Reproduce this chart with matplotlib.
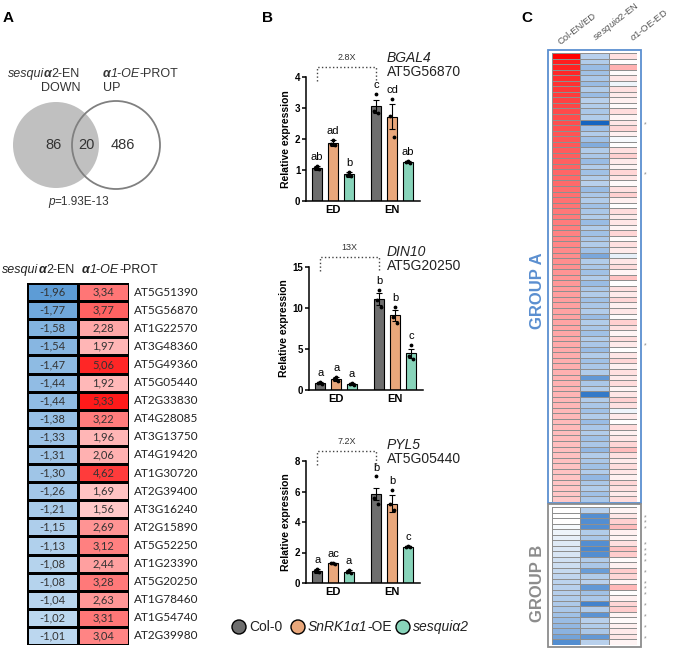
import matplotlib
matplotlib.use('Agg')
import matplotlib.pyplot as plt
import numpy as np
from matplotlib.colors import LinearSegmentedColormap, Normalize, TwoSlopeNorm
from matplotlib.patches import Circle, Rectangle

plt.rcParams['font.family'] = ['Liberation Sans', 'DejaVu Sans']
plt.rcParams['mathtext.fontset'] = 'custom'
plt.rcParams['mathtext.rm'] = 'Liberation Sans'
plt.rcParams['mathtext.it'] = 'Liberation Sans:italic'
plt.rcParams['mathtext.bf'] = 'Liberation Sans:bold'

W, H = 676, 650

# ---------------- panel A data ----------------
venn_counts = [86, 20, 486]
venn_p = '1.93E-13'

table_genes = ['AT5G51390', 'AT5G56870', 'AT1G22570', 'AT3G48360', 'AT5G49360',
               'AT5G05440', 'AT2G33830', 'AT4G28085', 'AT3G13750', 'AT4G19420',
               'AT1G30720', 'AT2G39400', 'AT3G16240', 'AT2G15890', 'AT5G52250',
               'AT1G23390', 'AT5G20250', 'AT1G78460', 'AT1G54740', 'AT2G39980']
table_sesqui = [-1.96, -1.77, -1.58, -1.54, -1.47, -1.44, -1.44, -1.38, -1.33, -1.31,
                -1.30, -1.26, -1.21, -1.15, -1.13, -1.08, -1.08, -1.04, -1.02, -1.01]
table_oe = [3.34, 3.77, 2.28, 1.97, 5.06, 1.92, 5.33, 3.22, 1.96, 2.06,
            4.62, 1.69, 1.56, 2.69, 3.12, 2.44, 3.28, 2.63, 3.31, 3.04]

# ---------------- panel B data ----------------
# order: ED Col-0, ED OE, ED sesqui, EN Col-0, EN OE, EN sesqui
conditions = ['ED', 'EN']
bgal4_mean = [1.07, 1.87, 0.87, 3.05, 2.72, 1.25]
bgal4_sem = [0.07, 0.10, 0.08, 0.20, 0.40, 0.04]
bgal4_points = [[1.12, 1.05, 1.02], [1.98, 1.85, 1.80], [0.95, 0.85, 0.80],
                [3.45, 2.90, 2.85], [3.30, 2.75, 2.05], [1.29, 1.25, 1.22]]
bgal4_letters = ['ab', 'ad', 'b', 'c', 'cd', 'ab']

din10_mean = [0.85, 1.35, 0.70, 11.1, 9.1, 4.5]
din10_sem = [0.10, 0.22, 0.10, 0.75, 0.70, 0.55]
din10_points = [[1.0, 0.8, 0.75], [1.6, 1.3, 1.15], [0.85, 0.7, 0.6],
                [12.2, 11.0, 10.1], [10.1, 8.9, 8.2], [5.5, 4.2, 3.8]]
din10_letters = ['a', 'a', 'a', 'b', 'b', 'c']

pyl5_mean = [0.80, 1.28, 0.75, 5.85, 5.20, 2.38]
pyl5_sem = [0.12, 0.03, 0.10, 0.40, 0.55, 0.05]
pyl5_points = [[0.95, 0.8, 0.7], [1.3, 1.28, 1.26], [0.85, 0.75, 0.65],
               [7.0, 5.6, 5.2], [6.1, 5.2, 4.8], [2.42, 2.38, 2.35]]
pyl5_letters = ['a', 'ac', 'a', 'b', 'b', 'c']

genotype_colors = ['#6e6e6e', '#e9a77b', '#88d4ba']
genotype_labels = [[('Col-0', 'normal', 'normal')],
                   [('SnRK1α1', 'italic', 'normal'), ('-OE', 'normal', 'normal')],
                   [('sesquiα2', 'italic', 'normal')]]

# ---------------- panel C data ----------------
heat_columns = ['Col-EN/ED', r'$\mathit{sesqui\alpha2}$-EN', r'$\mathit{\alpha1}$-OE-ED']

heat_a_col = [5.00, 4.40, 4.30, 4.20, 4.10, 4.00, 3.90, 3.80, 3.70, 3.60,
              3.55, 3.50, 3.45, 3.40, 3.35, 3.30, 3.25, 3.20, 3.15, 3.10,
              3.05, 3.00, 2.95, 2.90, 2.85, 2.80, 2.75, 2.70, 2.65, 2.60,
              2.55, 2.50, 2.45, 2.40, 2.35, 2.30, 2.25, 2.20, 2.15, 2.10,
              2.05, 2.00, 1.95, 1.90, 1.88, 1.85, 1.82, 1.80, 1.77, 1.75,
              1.72, 1.70, 1.67, 1.65, 1.62, 1.60, 1.57, 1.55, 1.52, 1.50,
              1.48, 1.46, 1.44, 1.42, 1.40, 1.38, 1.36, 1.34, 1.32, 1.30,
              1.28, 1.26, 1.24, 1.22, 1.20, 1.18, 1.16, 1.14, 1.12, 1.10,
              1.08]
heat_a_sesqui = [-0.9, -1.0, -1.3, -1.2, -1.1, -1.3, -1.0, -1.3, -0.9, -1.0,
                 -1.1, -1.0, -3.0, -1.2, -1.0, -1.2, -1.6, -1.0, -1.1, -1.3,
                 -1.0, -1.2, -1.0, -0.9, -1.3, -1.1, -1.0, -1.2, -1.1, -1.0,
                 -1.3, -1.0, -1.2, -1.1, -1.0, -1.2, -1.7, -1.0, -1.1, -1.2,
                 -1.0, -1.3, -1.1, -1.0, -1.2, -1.1, -1.0, -1.3, -1.0, -1.1,
                 -1.2, -1.0, -1.1, -1.3, -1.0, -1.2, -1.1, -1.0, -2.0, -1.1,
                 -1.0, -2.6, -1.0, -1.1, -1.2, -1.0, -1.3, -1.1, -1.0, -1.2,
                 -1.1, -1.4, -1.0, -1.1, -1.2, -1.0, -1.4, -1.1, -1.0, -1.2,
                 -1.1]
heat_a_oe = [0.6, 0.0, 1.5, 0.1, 0.5, -0.2, 0.6, 0.4, 0.3, 0.1,
             0.7, 0.2, 0.5, 0.8, 0.3, -0.1, 0.0, 0.6, 0.9, 0.4,
             0.2, 0.8, 0.5, 0.1, 0.6, 0.9, 0.3, 0.0, 0.7, 0.4,
             0.5, 0.2, 0.8, 0.1, 0.6, 0.4, -0.3, 0.5, 0.7, 0.2,
             1.2, 0.0, 0.6, 0.4, 0.8, 0.3, 0.5, 0.1, 0.9, 0.6,
             0.2, 0.7, 0.4, 0.0, 0.5, 0.8, 0.3, 0.6, 0.4, 0.7,
             0.2, 0.5, 0.9, 0.6, -0.2, 0.4, 0.0, 0.7, 0.3, 0.5,
             0.8, 1.3, 0.6, 0.4, 0.7, 0.5, 0.3, 0.8, 0.6, 0.4,
             0.7]
heat_a_stars = [12, 21, 52]

heat_b_col = [0.0, 0.0, 0.0, -0.1, -0.2, -0.3, -0.4, -0.45, -0.5, -0.6,
              -0.65, -0.75, -0.8, -0.85, -0.9, -0.95, -1.0, -1.05, -1.1, -1.2,
              -1.3, -1.4, -1.5, -1.8, -2.2]
heat_b_sesqui = [-0.9, -2.2, -2.2, -2.2, -1.0, -1.1, -2.2, -2.3, -2.2, -1.0,
                 -1.1, -1.9, -1.0, -0.9, -2.0, -1.2, -1.1, -2.4, -1.0, -2.1,
                 -0.9, -1.0, -1.1, -2.0, -0.9]
heat_b_oe = [0.2, 0.5, 0.9, 1.3, 0.3, 0.2, 0.6, 1.2, 1.0, 0.1,
             0.3, 1.0, 0.8, 0.2, 1.4, 0.0, 0.3, 0.8, 1.0, 0.2,
             0.1, 0.3, 0.4, 0.5, 0.2]
heat_b_stars = [1, 2, 3, 6, 7, 8, 9, 11, 13, 14, 15, 17, 19, 21, 23]


def px_box(x0, y0, x1, y1):
    return [x0 / W, 1 - y1 / H, (x1 - x0) / W, (y1 - y0) / H]


def fmt_comma(v):
    return ('%.2f' % v).replace('.', ',')


def Rich_Text(ax, renderer, x, y, parts, fontsize, ha='left', color='#333333'):
    # draw a row of text pieces with their own style, placed one after another
    texts = []
    cursor = x
    for s, style, weight in parts:
        t = ax.text(cursor, y, s, fontsize=fontsize, style=style, fontweight=weight,
                    ha='left', va='center', color=color)
        cursor += t.get_window_extent(renderer).width
        texts.append(t)
    if ha == 'right':
        total = cursor - x
        for t in texts:
            t.set_x(t.get_position()[0] - total)


def Draw_Table(fig):
    ax = fig.add_axes(px_box(27, 283, 129, 645))
    n = len(table_genes)
    rows = np.arange(n + 1)
    blue = LinearSegmentedColormap.from_list('tblue', ['#5d9cd6', '#bcd7ef'])
    red = LinearSegmentedColormap.from_list('tred', ['#ffc8c8', '#ff1a1a'])
    ax.pcolormesh([0, 1], rows, np.array(table_sesqui)[:, None], cmap=blue,
                  norm=Normalize(min(table_sesqui), max(table_sesqui)),
                  edgecolors='black', linewidth=1.0)
    ax.pcolormesh([1, 2], rows, np.array(table_oe)[:, None], cmap=red,
                  norm=Normalize(min(table_oe), max(table_oe)),
                  edgecolors='black', linewidth=1.0)
    for i in range(n):
        ax.text(0.5, i + 0.5, fmt_comma(table_sesqui[i]), ha='center', va='center',
                fontsize=8, family='Lato', color='#333333')
        ax.text(1.5, i + 0.5, fmt_comma(table_oe[i]), ha='center', va='center',
                fontsize=8, family='Lato', color='#333333')
        ax.text(2.1, i + 0.5, table_genes[i], ha='left', va='center',
                fontsize=8.5, family='Lato', color='#222222', clip_on=False)
    ax.set_xlim(0, 2)
    ax.set_ylim(n, 0)
    ax.axis('off')


def Draw_Bars(fig, box, mean, sem, points, letters, ymax, yticks, fold):
    ax = fig.add_axes(px_box(*box))
    x = [c + o for c in (0, 1) for o in (-0.27, 0, 0.27)]
    ax.bar(x, mean, width=0.17, color=genotype_colors * 2, edgecolor='black',
           linewidth=0.8, zorder=2)
    ax.errorbar(x, mean, yerr=sem, fmt='none', ecolor='black', elinewidth=0.8,
                capsize=2.5, capthick=0.8, zorder=3)
    for xi, pts in zip(x, points):
        ax.scatter([xi, xi - 0.035, xi + 0.035], pts, s=3, color='black',
                   zorder=4, clip_on=False)
    for xi, m, s, pts, lab in zip(x, mean, sem, points, letters):
        top = max(m + s, max(pts))
        ax.text(xi, top + 0.03 * ymax, lab, ha='center', va='bottom', fontsize=8)
    # fold-change bracket
    xa, xb = x[0], x[3]
    ax.plot([xa, xa, xb, xb], [0.97 * ymax, 1.08 * ymax, 1.08 * ymax, 0.97 * ymax],
            ls=':', color='#444444', lw=1.0, clip_on=False)
    ax.text((xa + xb) / 2, 1.12 * ymax, fold, ha='center', va='bottom', fontsize=6.5,
            color='#333333')
    ax.set_xlim(-0.46, 1.47)
    ax.set_ylim(0, ymax)
    ax.set_yticks(yticks)
    ax.set_xticks([0, 1])
    ax.set_xticklabels(conditions, fontweight='bold', fontsize=8)
    ax.tick_params(axis='x', length=0, pad=3)
    ax.tick_params(axis='y', length=3, width=1.1, labelsize=7, pad=1)
    for lab in ax.get_yticklabels():
        lab.set_fontweight('bold')
    for side in ['top', 'right']:
        ax.spines[side].set_visible(False)
    for side in ['left', 'bottom']:
        ax.spines[side].set_linewidth(1.1)
    ax.set_ylabel('Relative expression', fontsize=7.5, fontweight='bold', labelpad=3)
    return ax


def Draw_Heat(fig, box, cols, stars, cmap, norm):
    ax = fig.add_axes(px_box(*box))
    M = np.column_stack(cols)
    ax.pcolormesh(M, cmap=cmap, norm=norm, edgecolors='#8f8f8f', linewidth=0.4)
    for r in stars:
        ax.text(3.3, r + 0.9, '*', ha='center', va='center', fontsize=5,
                color='#8a8a8a', clip_on=False)
    ax.set_xlim(0, 3)
    ax.set_ylim(M.shape[0], 0)
    ax.axis('off')


fig = plt.figure(figsize=(W / 100, H / 100), dpi=100)
renderer = fig.canvas.get_renderer()

Draw_Table(fig)

Draw_Bars(fig, (306, 77, 420, 201), bgal4_mean, bgal4_sem, bgal4_points,
          bgal4_letters, 4, [0, 1, 2, 3, 4], '2.8X')
Draw_Bars(fig, (309, 267, 423, 390), din10_mean, din10_sem, din10_points,
          din10_letters, 15, [0, 5, 10, 15], '13X')
Draw_Bars(fig, (306, 461, 420, 583), pyl5_mean, pyl5_sem, pyl5_points,
          pyl5_letters, 8, [0, 2, 4, 6, 8], '7.2X')

heat_cmap = LinearSegmentedColormap.from_list('heat', ['#1565c0', '#ffffff', '#ff0000'])
heat_norm = TwoSlopeNorm(vmin=-3, vcenter=0, vmax=5)
Draw_Heat(fig, (552, 53, 637, 502), [heat_a_col, heat_a_sesqui, heat_a_oe],
          heat_a_stars, heat_cmap, heat_norm)
Draw_Heat(fig, (552, 507, 637, 645), [heat_b_col, heat_b_sesqui, heat_b_oe],
          heat_b_stars, heat_cmap, heat_norm)

# overlay in pixel coordinates for annotations
ov = fig.add_axes([0, 0, 1, 1])
ov.set_xlim(0, W)
ov.set_ylim(H, 0)
ov.axis('off')
ov.patch.set_visible(False)

for lab, xx in [('A', 3), ('B', 262), ('C', 521)]:
    ov.text(xx, 18, lab, fontsize=11, fontweight='bold', va='center', ha='left')

# venn
ov.add_patch(Circle((56, 145), 43, fc='#c0c0c0', ec='none'))
ov.add_patch(Circle((116, 145), 44, fc='none', ec='#808080', lw=1.3))
for txt, xx in zip(venn_counts, [54, 86, 123]):
    ov.text(xx, 145, str(txt), fontsize=10.5, ha='center', va='center', color='#333333')
sesqui_label = [('sesqui', 'italic', 'normal'), ('α', 'italic', 'bold'),
                ('2-EN', 'normal', 'normal')]
oe_label = [('α', 'italic', 'bold'), ('1-OE', 'italic', 'normal'),
            ('-PROT', 'normal', 'normal')]
Rich_Text(ov, renderer, 80, 74, sesqui_label, 9, ha='right')
ov.text(80, 88, 'DOWN', fontsize=9, ha='right', va='center', color='#333333')
Rich_Text(ov, renderer, 103, 74, oe_label, 9)
ov.text(103, 88, 'UP', fontsize=9, ha='left', va='center', color='#333333')
Rich_Text(ov, renderer, 48, 202, [('p', 'italic', 'normal'), ('=' + venn_p, 'normal', 'normal')],
          8.5)

# table header
Rich_Text(ov, renderer, 2, 270, sesqui_label, 9, color='#222222')
Rich_Text(ov, renderer, 82, 270, oe_label, 9, color='#222222')

# gene names for panel B
for name, locus, yy in [('BGAL4', 'AT5G56870', 58), ('DIN10', 'AT5G20250', 252),
                        ('PYL5', 'AT5G05440', 445)]:
    ov.text(387, yy, name, fontsize=10, style='italic', ha='left', va='center',
            color='#222222')
    ov.text(387, yy + 14, locus, fontsize=10, ha='left', va='center', color='#222222')

# legend
for col, parts, cx in zip(genotype_colors, genotype_labels, [239, 298, 403]):
    ov.add_patch(Circle((cx, 627), 7, fc=col, ec='black', lw=1.0))
    Rich_Text(ov, renderer, cx + 10, 627, parts, 10, color='#222222')

# heatmap boxes and labels
ov.add_patch(Rectangle((548, 50), 93, 453, fc='none', ec='#5b8fd0', lw=1.3))
ov.add_patch(Rectangle((548, 504), 93, 143, fc='none', ec='#8c8c8c', lw=1.3))
ov.text(537, 291, 'GROUP A', rotation=90, fontsize=12, fontweight='bold',
        color='#5b8fd0', ha='center', va='center')
ov.text(537, 583, 'GROUP B', rotation=90, fontsize=12, fontweight='bold',
        color='#8c8c8c', ha='center', va='center')
for lab, xx, yy in zip(heat_columns, [562, 598, 634], [47, 44, 43]):
    ov.text(xx, yy, lab, rotation=38, rotation_mode='anchor', fontsize=6.8,
            ha='left', va='bottom', color='#555555')

fig.savefig('out.png', dpi=100)
